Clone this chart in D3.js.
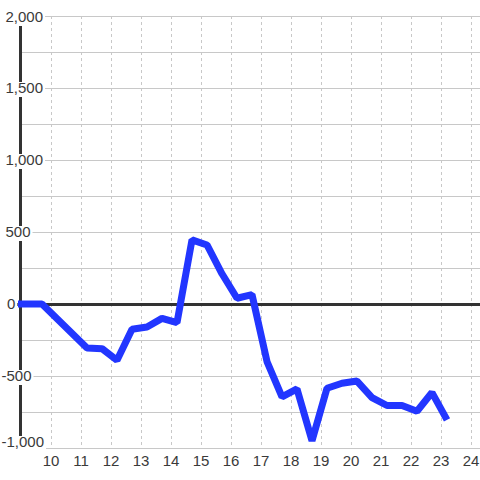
<!DOCTYPE html>
<html><head><meta charset="utf-8">
<script src="https://cdn.jsdelivr.net/npm/d3@7"></script>
<style>html,body{margin:0;padding:0;background:#fff;}svg{display:block;}</style>
</head><body>
<svg id="c" width="480" height="480"></svg>
<script>
const xValues = [8.9, 9.7, 11.2, 11.7, 12.2, 12.7, 13.2, 13.7, 14.2, 14.7, 15.2, 15.7, 16.2, 16.7, 17.2, 17.7, 18.2, 18.7, 19.2, 19.7, 20.2, 20.7, 21.2, 21.7, 22.2, 22.7, 23.2];
const yValues = [0, 0, -305, -310, -390, -175, -160, -100, -130, 445, 410, 210, 40, 65, -400, -645, -590, -950, -585, -550, -535, -650, -705, -705, -745, -615, -805];
const xTicks = [10, 11, 12, 13, 14, 15, 16, 17, 18, 19, 20, 21, 22, 23, 24];
const yGrid = [-1000, -750, -500, -250, 0, 250, 500, 750, 1000, 1250, 1500, 1750, 2000];
const yLabels = [-1000, -500, 0, 500, 1000, 1500, 2000];

const svg = d3.select("#c");
const x = d3.scaleLinear().domain([9, 24]).range([21, 471]);
const y = d3.scaleLinear().domain([-1000, 2000]).range([448, 16]);
const fmt = d3.format(",");

// horizontal gridlines
svg.append("g").selectAll("line").data(yGrid.filter(d => d !== 0)).join("line")
  .attr("x1", 20).attr("x2", 480)
  .attr("y1", d => Math.round(y(d)) + 0.5).attr("y2", d => Math.round(y(d)) + 0.5)
  .attr("stroke", "#c8c8c8").attr("stroke-width", 1);

// vertical dashed gridlines
svg.append("g").selectAll("line").data(xTicks).join("line")
  .attr("x1", d => Math.round(x(d)) + 0.5).attr("x2", d => Math.round(x(d)) + 0.5)
  .attr("y1", y(2000)).attr("y2", y(-1000))
  .attr("stroke", "#c8c8c8").attr("stroke-width", 1).attr("stroke-dasharray", "3,3");

// zero line
svg.append("line").attr("x1", 17).attr("x2", 480)
  .attr("y1", y(0) + 0.5).attr("y2", y(0) + 0.5)
  .attr("stroke", "#333").attr("stroke-width", 3);

// y axis line
svg.append("line").attr("x1", 20.5).attr("x2", 20.5)
  .attr("y1", y(2000)).attr("y2", y(-1000))
  .attr("stroke", "#333").attr("stroke-width", 3);

// y labels with white backdrop
const yl = svg.append("g").attr("font-family", "Liberation Sans, Arial, sans-serif")
  .attr("font-size", 15).attr("fill", "#3a3a3a");
yLabels.forEach(v => {
  const base = Math.max(22, Math.min(447, y(v) + 5));
  const tx = v < 0 ? 1.5 : (v === 0 ? 7 : 5.5);
  const g = yl.append("g");
  const rect = g.append("rect").attr("fill", "#fff");
  const t = g.append("text").attr("x", tx).attr("y", base).text(fmt(v).replace("−", "-"));
  const bb = t.node().getBBox();
  rect.attr("x", bb.x - 2).attr("y", base - 11).attr("width", bb.width + 4).attr("height", 15);
});

// x labels
svg.append("g").attr("font-family", "Liberation Sans, Arial, sans-serif")
  .attr("font-size", 15).attr("fill", "#3a3a3a").attr("text-anchor", "middle")
  .selectAll("text").data(xTicks).join("text")
  .attr("x", d => x(d)).attr("y", 466).text(d => d);

// data line
const pts = xValues.map((d, i) => [d, yValues[i]]);
svg.append("path").datum(pts)
  .attr("d", d3.line().x(d => x(d[0])).y(d => y(d[1])))
  .attr("fill", "none").attr("stroke", "#2236ff").attr("stroke-width", 7)
  .attr("stroke-linejoin", "bevel").attr("stroke-linecap", "butt");
</script>
</body></html>
